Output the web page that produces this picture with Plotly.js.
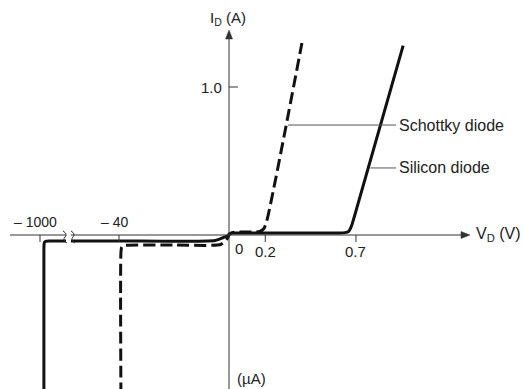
<!DOCTYPE html>
<html><head><meta charset="utf-8">
<script src="https://cdn.plot.ly/plotly-3.0.1.min.js"></script>
<style>body{margin:0;background:#fff}#c{width:523px;height:389px}</style>
</head><body><div id="c"></div>
<script>
// ---- data ----
// forward region: voltage (V), current (A)
const siFwdV = [0, 0.02, 0.10, 0.30, 0.50, 0.60, 0.64, 0.66, 0.675, 0.69, 0.96];
const siFwdI = [0.006, 0.013, 0.013, 0.013, 0.013, 0.014, 0.016, 0.025, 0.06, 0.12, 1.28];
const skFwdV = [0, 0.02, 0.08, 0.14, 0.17, 0.19, 0.205, 0.402];
const skFwdI = [0.004, 0.018, 0.020, 0.020, 0.024, 0.04, 0.08, 1.297];
// reverse region: voltage (V), current (µA)
const siRevV = [-985, -985, -984, -980, -960, -40, -5, -2, 0];
const siRevI = [-32, -3, -1.7, -1.3, -1.2, -1.2, -1.1, -0.5, 0];
const skRevV = [-39.3, -39.3, -39, -38, -20, -3, -1, 0];
const skRevI = [-32, -3.5, -2.4, -2.1, -2.0, -1.9, -1.0, 0];
// axis ticks
const xTickVals = [-1000, -40, 0.2, 0.7];
const xTickText = ['\u2013 1000', '\u2013 40', '0.2', '0.7'];
const yTickVals = [1.0];
const yTickText = ['1.0'];
const seriesNames = ['Schottky diode', 'Silicon diode'];
const labelCurrent = [0.743, 0.453]; // current (A) where each leader touches its curve

// ---- scale helpers (broken axis: volts forward, µA reverse) ----
const W = 523, H = 389;
const X0 = 229, Y0 = 235, PXV = 181.4, PXA = 148;
function xPos(v) {
  if (v >= 0) return v;
  if (v >= -50) return v * 2.75 / PXV;
  const px = 40 + (v + 1000) * 0.26;
  return (px - X0) / PXV;
}
function yRev(uA) { return uA * 5 / PXA; }
function P(px, py) { return [px / W, 1 - py / H]; }

function curve(rv, ri, fv, fi) {
  return {
    x: rv.map(xPos).concat(fv.map(xPos)),
    y: ri.map(yRev).concat(fi)
  };
}
const si = curve(siRevV, siRevI, siFwdV, siFwdI);
const sk = curve(skRevV, skRevI, skFwdV, skFwdI);

const traces = [
  {x: sk.x, y: sk.y, mode: 'lines', name: seriesNames[0], line: {color: '#111', width: 3, dash: '12px,5px', shape: 'spline', smoothing: 0.6}, hoverinfo: 'skip'},
  {x: si.x, y: si.y, mode: 'lines', name: seriesNames[1], line: {color: '#111', width: 3, shape: 'spline', smoothing: 0.6}, hoverinfo: 'skip'}
];

const fam = 'Liberation Sans, Arial, sans-serif';
const font = {family: fam, size: 15, color: '#222'};
const fontS = {family: fam, size: 14, color: '#222'};
const fontL = {family: fam, size: 16, color: '#222'};
const ann = [];
const shapes = [];
const xMin = (10 - X0) / PXV, xMax = (470 - X0) / PXV;
const yTop = (Y0 - 30) / PXA, yBot = (Y0 - H) / PXA;
// axes lines
shapes.push({type: 'line', xref: 'x', yref: 'y', x0: xMin, x1: xMax - 6 / PXV, y0: 0, y1: 0, line: {color: '#333', width: 1}});
shapes.push({type: 'line', xref: 'x', yref: 'y', x0: 0, x1: 0, y0: yBot, y1: yTop - 6 / PXA, line: {color: '#333', width: 1}});
// arrowheads
const ah1 = P(470, Y0), ah2 = P(461, Y0 - 3.5), ah3 = P(461, Y0 + 3.5);
shapes.push({type: 'path', xref: 'paper', yref: 'paper', path: 'M' + ah1.join(',') + ' L' + ah2.join(',') + ' L' + ah3.join(',') + ' Z', fillcolor: '#333', line: {color: '#333', width: 0.5}});
const av1 = P(X0, 30), av2 = P(X0 - 3.5, 39), av3 = P(X0 + 3.5, 39);
shapes.push({type: 'path', xref: 'paper', yref: 'paper', path: 'M' + av1.join(',') + ' L' + av2.join(',') + ' L' + av3.join(',') + ' Z', fillcolor: '#333', line: {color: '#333', width: 0.5}});
// x ticks
const tl = 7 / PXA;
xTickVals.forEach((v, i) => {
  const x = xPos(v);
  shapes.push({type: 'line', xref: 'x', yref: 'y', x0: x, x1: x, y0: 0, y1: -tl, line: {color: '#333', width: 1}});
  if (v < 0) ann.push({x: x, y: 0, xref: 'x', yref: 'y', text: xTickText[i], showarrow: false, yanchor: 'bottom', yshift: 3, xshift: -5, font: fontS});
  else ann.push({x: x, y: 0, xref: 'x', yref: 'y', text: xTickText[i], showarrow: false, yanchor: 'top', yshift: -6, font: font});
});
ann.push({x: 0, y: 0, xref: 'x', yref: 'y', text: '0', showarrow: false, xanchor: 'left', yanchor: 'top', xshift: 4, yshift: -3, font: font});
// y ticks
yTickVals.forEach((v, i) => {
  shapes.push({type: 'line', xref: 'x', yref: 'y', x0: 0, x1: 9 / PXV, y0: v, y1: v, line: {color: '#333', width: 1}});
  ann.push({x: 0, y: v, xref: 'x', yref: 'y', text: yTickText[i], showarrow: false, xanchor: 'right', xshift: -5, font: font});
});
// axis titles
ann.push({x: 0, y: yTop, xref: 'x', yref: 'y', text: 'I<sub>D</sub> (A)', showarrow: false, yanchor: 'bottom', yshift: 0, xshift: -1, font: font});
ann.push({x: xMax, y: 0, xref: 'x', yref: 'y', text: 'V<sub>D</sub> (V)', showarrow: false, xanchor: 'left', xshift: 4, yshift: 1, font: fontL});
ann.push({x: 0, y: yBot, xref: 'x', yref: 'y', text: '(\u00b5A)', showarrow: false, xanchor: 'left', yanchor: 'bottom', xshift: 6, yshift: 0, font: font});
// series labels with leader lines
function interpV(fv, fi, I) {
  for (let k = 1; k < fi.length; k++) {
    if (I <= fi[k]) return fv[k - 1] + (I - fi[k - 1]) / (fi[k] - fi[k - 1]) * (fv[k] - fv[k - 1]);
  }
  return fv[fv.length - 1];
}
[[skFwdV, skFwdI], [siFwdV, siFwdI]].forEach((d, i) => {
  const I = labelCurrent[i];
  const v = interpV(d[0], d[1], I) + 0.012;
  shapes.push({type: 'line', xref: 'x', yref: 'y', x0: v, x1: (396 - X0) / PXV, y0: I, y1: I, line: {color: '#555', width: 1}});
  ann.push({x: (397 - X0) / PXV, y: I, xref: 'x', yref: 'y', text: seriesNames[i], showarrow: false, xanchor: 'left', font: fontL});
});
// axis break marks
const b1 = P(63, 231), b2 = P(67, 243), b3 = P(71, 231), b4 = P(75, 243);
const wr0 = P(66, 229), wr1 = P(71, 245);
shapes.push({type: 'rect', xref: 'paper', yref: 'paper', x0: wr0[0], x1: wr1[0], y0: wr1[1], y1: wr0[1], fillcolor: '#fff', line: {width: 0}, layer: 'above'});
function sq(a, b) {
  const mx = (a[0] + b[0]) / 2, my = (a[1] + b[1]) / 2;
  const dx = 3 / W;
  return 'M' + a[0] + ',' + a[1] + ' Q' + (mx + dx) + ',' + ((a[1] + my) / 2) + ' ' + mx + ',' + my + ' Q' + (mx - dx) + ',' + ((my + b[1]) / 2) + ' ' + b[0] + ',' + b[1];
}
shapes.push({type: 'path', xref: 'paper', yref: 'paper', path: sq(b1, b2), line: {color: '#333', width: 1}, layer: 'above'});
shapes.push({type: 'path', xref: 'paper', yref: 'paper', path: sq(b3, b4), line: {color: '#333', width: 1}, layer: 'above'});

const layout = {
  width: W, height: H,
  margin: {l: 0, r: 0, t: 0, b: 0},
  paper_bgcolor: '#fff', plot_bgcolor: '#fff',
  showlegend: false,
  xaxis: {range: [-X0 / PXV, (W - X0) / PXV], visible: false, showgrid: false, zeroline: false},
  yaxis: {range: [(Y0 - H) / PXA, Y0 / PXA], visible: false, showgrid: false, zeroline: false},
  annotations: ann,
  shapes: shapes
};
Plotly.newPlot('c', traces, layout, {staticPlot: true, displayModeBar: false});
</script></body></html>
